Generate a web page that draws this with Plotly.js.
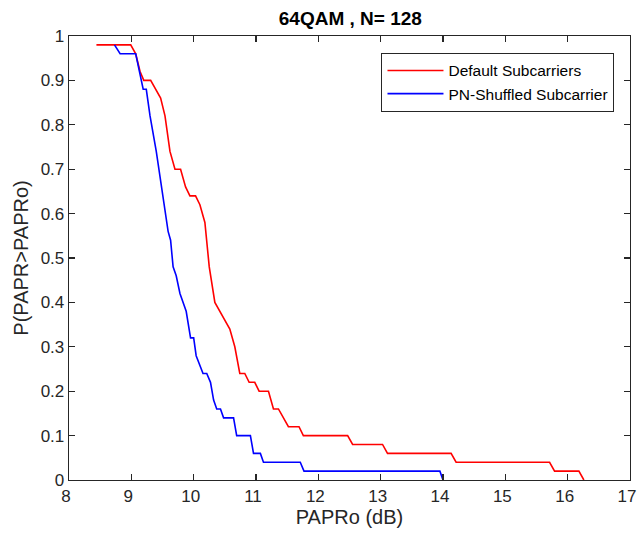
<!DOCTYPE html>
<html>
<head>
<meta charset="utf-8">
<script src="https://cdn.plot.ly/plotly-3.0.1.min.js"></script>
<style>html,body{margin:0;padding:0;background:#fff;}#chart{width:637px;height:536px;}</style>
</head>
<body>
<div id="chart"></div>
<script>
var defaultX = [8.44, 8.99, 9.07, 9.14, 9.2, 9.31, 9.47, 9.54, 9.62, 9.70, 9.79, 9.87, 9.94, 10.03, 10.1, 10.18, 10.25, 10.34, 10.58, 10.66, 10.74, 10.82, 10.89, 10.98, 11.05, 11.2, 11.28, 11.36, 11.52, 11.69, 11.76, 12.47, 12.55, 13.03, 13.11, 14.13, 14.21, 15.71, 15.79, 16.18, 16.26];
var defaultY = [0.98, 0.98, 0.96, 0.92, 0.90, 0.90, 0.86, 0.82, 0.74, 0.70, 0.70, 0.66, 0.64, 0.64, 0.62, 0.58, 0.48, 0.40, 0.34, 0.30, 0.24, 0.24, 0.22, 0.22, 0.20, 0.20, 0.16, 0.16, 0.12, 0.12, 0.10, 0.10, 0.08, 0.08, 0.06, 0.06, 0.04, 0.04, 0.02, 0.02, 0];
var shuffledX = [8.73, 8.82, 9.07, 9.19, 9.24, 9.3, 9.4, 9.46, 9.51, 9.59, 9.63, 9.67, 9.72, 9.78, 9.88, 9.95, 10.0, 10.04, 10.15, 10.21, 10.27, 10.32, 10.37, 10.43, 10.48, 10.64, 10.69, 10.91, 10.96, 11.07, 11.12, 11.71, 11.77, 13.95, 14.0];
var shuffledY = [0.98, 0.96, 0.96, 0.88, 0.88, 0.82, 0.74, 0.68, 0.64, 0.56, 0.54, 0.48, 0.46, 0.42, 0.38, 0.32, 0.32, 0.28, 0.24, 0.24, 0.22, 0.18, 0.16, 0.16, 0.14, 0.14, 0.10, 0.10, 0.06, 0.06, 0.04, 0.04, 0.02, 0.02, 0];
var seriesNames = ['Default Subcarriers', 'PN-Shuffled Subcarrier'];
var xTicks = [8, 9, 10, 11, 12, 13, 14, 15, 16, 17];
var yTicks = [0, 0.1, 0.2, 0.3, 0.4, 0.5, 0.6, 0.7, 0.8, 0.9, 1];
var yTickText = ['0', '0.1', '0.2', '0.3', '0.4', '0.5', '0.6', '0.7', '0.8', '0.9', '1'];

var FONT = 'Liberation Sans, Arial, sans-serif';
var traces = [
  {x: defaultX, y: defaultY, name: seriesNames[0], type: 'scatter', mode: 'lines',
   line: {color: '#ff0000', width: 1.6}},
  {x: shuffledX, y: shuffledY, name: seriesNames[1], type: 'scatter', mode: 'lines',
   line: {color: '#0000ff', width: 1.6}}
];
var axisCommon = {
  showgrid: false, zeroline: false, showline: true, mirror: 'ticks',
  linecolor: '#262626', linewidth: 1.3, ticks: 'inside', ticklen: 6,
  tickcolor: '#262626', tickwidth: 1.3, ticklabeloverflow: 'allow',
  tickfont: {family: FONT, size: 17, color: '#262626'}
};
var layout = {
  width: 637, height: 536,
  margin: {l: 69, r: 7, t: 36, b: 56},
  paper_bgcolor: '#ffffff', plot_bgcolor: '#ffffff',
  title: {text: '<b>64QAM , N= 128</b>', x: 0.55, xanchor: 'center', y: 0.966, yanchor: 'middle',
    font: {family: FONT, size: 19, color: '#000000'}},
  xaxis: Object.assign({}, axisCommon, {
    range: [8, 17], tickvals: xTicks, ticktext: xTicks.map(String), ticklabelshift: -3,
    title: {text: 'PAPRo (dB)', standoff: 3,
      font: {family: FONT, size: 20, color: '#262626'}}
  }),
  yaxis: Object.assign({}, axisCommon, {
    range: [0, 1], tickvals: yTicks, ticktext: yTickText,
    title: {text: 'P(PAPR>PAPRo)', standoff: 6,
      font: {family: FONT, size: 20, color: '#262626'}}
  }),
  showlegend: true,
  legend: {x: 0.557, y: 0.962, xanchor: 'left', yanchor: 'top',
    bgcolor: '#ffffff', bordercolor: '#262626', borderwidth: 1,
    font: {family: FONT, size: 15.5, color: '#000000'},
    tracegroupgap: 0, itemwidth: 56}
};
Plotly.newPlot('chart', traces, layout, {displayModeBar: false, staticPlot: true});
</script>
</body>
</html>
